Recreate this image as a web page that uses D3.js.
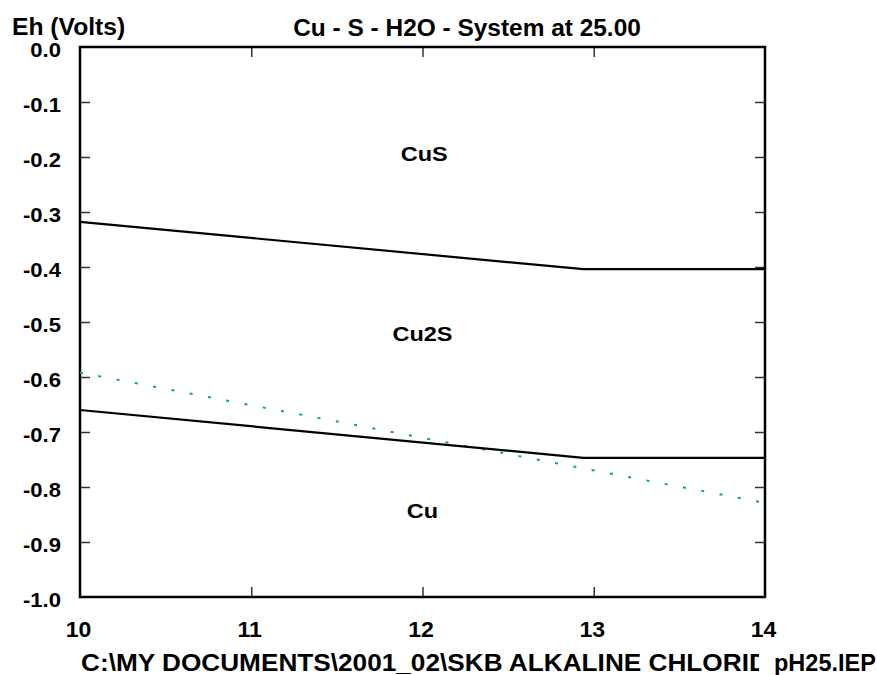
<!DOCTYPE html>
<html>
<head>
<meta charset="utf-8">
<script src="https://cdn.jsdelivr.net/npm/d3@7"></script>
<style>
  html, body { margin: 0; padding: 0; background: #fff; }
  svg text { font-family: "Liberation Sans", Arial, sans-serif; font-weight: bold; fill: #000; }
</style>
</head>
<body>
<svg id="chart" width="877" height="675"></svg>
<script>
// ---- data ----
const xTicks = [10, 11, 12, 13, 14];
const xTickLabels = ["10", "11", "12", "13", "14"];
const yTicks = [0, -0.1, -0.2, -0.3, -0.4, -0.5, -0.6, -0.7, -0.8, -0.9, -1.0];
const yTickLabels = ["0.0", "-0.1", "-0.2", "-0.3", "-0.4", "-0.5", "-0.6", "-0.7", "-0.8", "-0.9", "-1.0"];
// boundary CuS / Cu2S  [pH, Eh]
const boundaryCuS_Cu2S = [[10, -0.318], [12.94, -0.404], [14, -0.404]];
// boundary Cu2S / Cu
const boundaryCu2S_Cu = [[10, -0.660], [12.94, -0.747], [14, -0.747]];
// water (H2) stability line
const waterLine = [[10, -0.592], [14, -0.829]];
// field labels [name, pH, Eh]
const fieldNames = ["CuS", "Cu2S", "Cu"];
const fieldPH = [12.01, 12.0, 12.0];
const fieldEh = [-0.208, -0.535, -0.857];
const titleText = "Cu - S - H2O - System at 25.00";
const yAxisTitle = "Eh (Volts)";
const footerLeft = "C:\\MY DOCUMENTS\\2001_02\\SKB ALKALINE CHLORID";
const footerRight = "pH25.IEP";

// ---- drawing ----
const svg = d3.select("#chart");
const L = 80, R = 765, T = 47, B = 597;
const x = d3.scaleLinear().domain([10, 14]).range([L, R]);
const y = d3.scaleLinear().domain([-1, 0]).range([B, T]);

const g = svg.append("g");

function stretchedText(parent, px, py, txt, size, sx, anchor) {
  return parent.append("text")
    .attr("transform", `translate(${px},${py}) scale(${sx},1)`)
    .attr("text-anchor", anchor || "start")
    .attr("font-size", size)
    .text(txt);
}

// inward ticks
function styleAxis(sel) {
  sel.select(".domain").remove();
  sel.selectAll(".tick line").attr("stroke", "#333").attr("stroke-width", 1.5);
}
const xInner = xTicks.filter(v => v > 10 && v < 14);
g.append("g").attr("transform", `translate(0,${B})`)
  .call(d3.axisBottom(x).tickValues(xInner).tickSize(-10).tickFormat(""))
  .call(styleAxis);
g.append("g").attr("transform", `translate(0,${T})`)
  .call(d3.axisTop(x).tickValues(xInner).tickSize(-10).tickFormat(""))
  .call(styleAxis);
const yInner = yTicks.filter(v => v < 0 && v > -1);
g.append("g").attr("transform", `translate(${L},0)`)
  .call(d3.axisLeft(y).tickValues(yInner).tickSize(-10).tickFormat(""))
  .call(styleAxis);
g.append("g").attr("transform", `translate(${R},0)`)
  .call(d3.axisRight(y).tickValues(yInner).tickSize(-10).tickFormat(""))
  .call(styleAxis);

// frame
g.append("rect").attr("x", L).attr("y", T).attr("width", R - L).attr("height", B - T)
  .attr("fill", "none").attr("stroke", "#000").attr("stroke-width", 2.5);

// tick labels
yTicks.forEach((d, i) => stretchedText(g, 61, y(d) + 9.7, yTickLabels[i], 21, 1.05, "end"));
xTicks.forEach((d, i) => stretchedText(g, x(d) - 1.5, 637, xTickLabels[i], 22, 1.05, "middle"));

// lines
const line = d3.line().x(d => x(d[0])).y(d => y(d[1]));
g.append("path").datum(waterLine).attr("d", line)
  .attr("fill", "none").attr("stroke", "#129a9a").attr("stroke-width", 2)
  .attr("stroke-dasharray", "3,15.6");
[boundaryCuS_Cu2S, boundaryCu2S_Cu].forEach(b => {
  g.append("path").datum(b).attr("d", line)
    .attr("fill", "none").attr("stroke", "#000").attr("stroke-width", 2.2);
});

// field labels
fieldNames.forEach((d, i) => stretchedText(g, x(fieldPH[i]), y(fieldEh[i]), d, 21, 1.12, "middle"));

// titles
stretchedText(svg, 12, 35, yAxisTitle, 23.5, 1.05, "start");
stretchedText(svg, 467, 36, titleText, 23.5, 1.04, "middle");

// footer
svg.append("clipPath").attr("id", "footClip")
  .append("rect").attr("x", 0).attr("y", 600).attr("width", 759).attr("height", 75);
const fg = svg.append("g").attr("clip-path", "url(#footClip)");
stretchedText(fg, 81, 671, footerLeft, 23.5, 1.115, "start");
stretchedText(svg, 774, 671, footerRight, 23.5, 1.0, "start");
</script>
</body>
</html>
